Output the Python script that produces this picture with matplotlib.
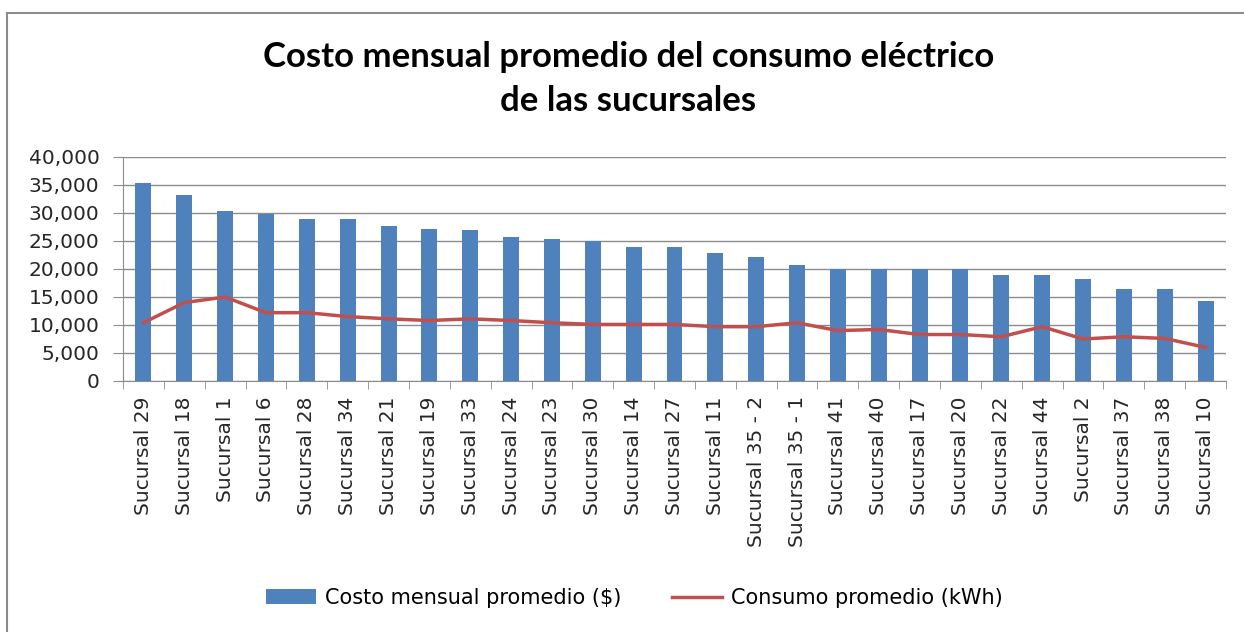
import matplotlib.pyplot as plt
import matplotlib.patches as patches
from matplotlib.ticker import FuncFormatter, FixedLocator

plt.rcParams['font.family'] = ['DejaVu Sans']

sucursales = ["Sucursal 29", "Sucursal 18", "Sucursal 1", "Sucursal 6", "Sucursal 28",
              "Sucursal 34", "Sucursal 21", "Sucursal 19", "Sucursal 33", "Sucursal 24",
              "Sucursal 23", "Sucursal 30", "Sucursal 14", "Sucursal 27", "Sucursal 11",
              "Sucursal 35 - 2", "Sucursal 35 - 1", "Sucursal 41", "Sucursal 40",
              "Sucursal 17", "Sucursal 20", "Sucursal 22", "Sucursal 44", "Sucursal 2",
              "Sucursal 37", "Sucursal 38", "Sucursal 10"]
costo = [35400, 33300, 30400, 29900, 29000, 29000, 27600, 27200, 26900, 25800,
         25400, 25000, 24000, 24000, 22900, 22200, 20800, 20000, 20000, 20000,
         20000, 19000, 19000, 18300, 16500, 16500, 14300]
consumo = [10400, 14000, 15000, 12200, 12200, 11500, 11100, 10800, 11100, 10800,
           10400, 10100, 10100, 10100, 9700, 9700, 10400, 9000, 9200, 8300,
           8300, 7900, 9700, 7500, 7900, 7600, 6000]

grey = "#8C8C8C"

fig = plt.figure(figsize=(12.44, 6.32), dpi=100)
ax = fig.add_axes([123 / 1244, 1 - 381 / 632, 1103 / 1244, 224 / 632])

x = range(len(sucursales))
bars = ax.bar(x, costo, width=0.39, color="#4F81BD", zorder=2)
line, = ax.plot(x, consumo, color="#C0504D", linewidth=2.5, zorder=3)

ax.set_xlim(-0.5, len(sucursales) - 0.5)
ax.set_ylim(0, 40000)
ax.set_yticks(range(0, 40001, 5000))
ax.yaxis.set_major_formatter(FuncFormatter(lambda v, p: "{:,}".format(int(v))))
ax.yaxis.grid(True, color=grey, linewidth=1.0, zorder=0)
ax.set_axisbelow(True)

ax.set_xticks(list(x))
ax.set_xticklabels(sucursales, rotation=90, fontsize=14.5, color="#262626")
ax.tick_params(axis="x", which="major", length=0, pad=11)
ax.xaxis.set_minor_locator(FixedLocator([i - 0.5 for i in range(len(sucursales) + 1)]))
ax.tick_params(axis="x", which="minor", length=6, color=grey)
ax.tick_params(axis="y", labelsize=14.5, labelcolor="#262626", length=7, color=grey, pad=10)

for s in ["top", "right"]:
    ax.spines[s].set_visible(False)
for s in ["left", "bottom"]:
    ax.spines[s].set_color(grey)

fig.text(0.505, 0.91, "Costo mensual promedio del consumo eléctrico",
         ha="center", va="center", fontsize=25, fontweight="bold", family="Lato")
fig.text(0.505, 0.84, "de las sucursales",
         ha="center", va="center", fontsize=25, fontweight="bold", family="Lato")

fig.legend([bars, line], ["Costo mensual promedio ($)", "Consumo promedio (kWh)"],
           loc="center", bbox_to_anchor=(0.51, 0.054), ncol=2, frameon=False,
           fontsize=15, handlelength=2.4, handleheight=0.7, columnspacing=2.4,
           handletextpad=0.45)

# chart border (only top and left edges are inside the picture)
fig.patches.append(patches.Rectangle((7 / 1244, -0.1), 1.2, 1.1 - 13 / 632,
                                     transform=fig.transFigure, fill=False,
                                     edgecolor=grey, linewidth=1.5))

fig.savefig("out.png", dpi=100)
